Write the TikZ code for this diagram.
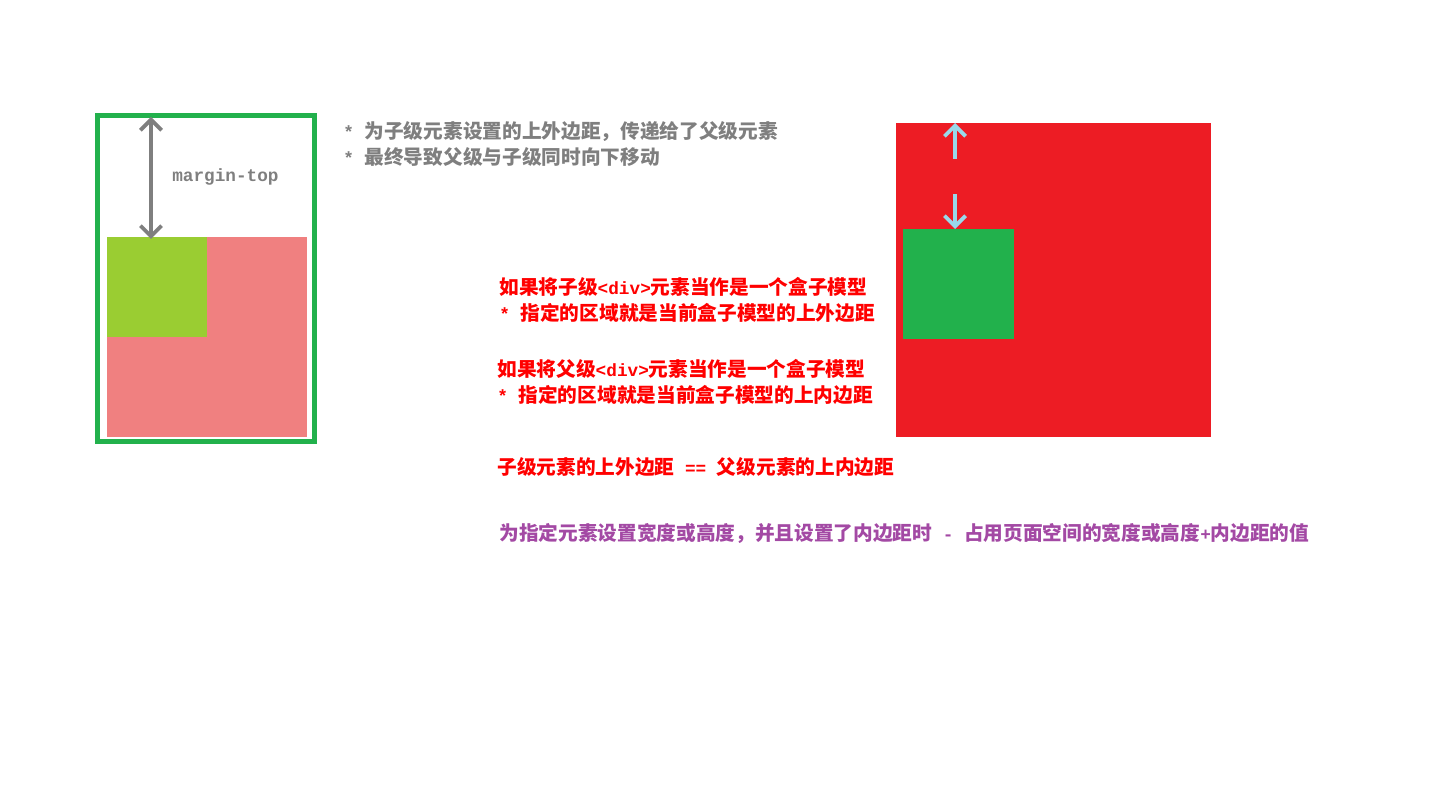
\documentclass[tikz,border=0pt]{standalone}
\usepackage{fontspec}
\setmainfont{Noto Sans CJK SC}
\newfontfamily\halfw[Scale=0.9]{Liberation Mono}
\usepackage{tikz}
\usetikzlibrary{arrows.meta,positioning,calc}
\definecolor{boxgreen}{HTML}{22B14C}
\definecolor{lightcoral}{HTML}{F08080}
\definecolor{yellowgreen}{HTML}{9ACD32}
\definecolor{boxred}{HTML}{ED1C24}
\definecolor{arrowgray}{HTML}{7F7F7F}
\definecolor{arrowblue}{HTML}{99D9EA}
\definecolor{notepurple}{HTML}{A349A4}
\newcommand{\hw}[1]{{\halfw #1}}

\begin{document}
\begin{tikzpicture}[
    x=0.02cm, y=-0.02cm,
    box/.style={rectangle, inner sep=0pt, outer sep=0pt, anchor=north west},
    note/.style={anchor=west, inner sep=0pt, font=\fontsize{11.2pt}{13pt}\selectfont\bfseries},
    gapline/.style={{Straight Barb[length=6pt, width=12pt]}-{Straight Barb[length=6pt, width=12pt]}, line width=2.2pt, color=arrowgray},
    padarrow/.style={-{Straight Barb[length=6pt, width=12pt]}, line width=2.2pt, color=arrowblue}
]
\useasboundingbox (0,0) rectangle (1440,800);

% Left example: parent and child
\node[box, draw=boxgreen, line width=2.8pt, minimum width=4.34cm, minimum height=6.52cm] (parent) at (97.5,115.5) {};
\node[box, fill=lightcoral, minimum width=4cm, minimum height=4cm] (inner) at (107,237) {};
\node[box, fill=yellowgreen, minimum width=2cm, minimum height=2cm] (child) at (107,237) {};

% margin-top arrow
\coordinate (mtop) at (151,117);
\coordinate (mbot) at (151,239);
\draw[gapline] (mtop) -- (mbot);
\node[note, color=arrowgray] (mlabel) at (172,177) {\hw{margin-top}};

% Notes on the left example
\node[note, color=arrowgray] (note1) at (343,131) {\hw{* }为子级元素设置的上外边距，传递给了父级元素};
\node[note, color=arrowgray] (note2) at (343,157) {\hw{* }最终导致父级与子级同时向下移动};

% Right example: parent with padding
\node[box, fill=boxred, minimum width=6.3cm, minimum height=6.28cm] (redbox) at (896,123) {};
\node[box, fill=boxgreen, minimum width=2.22cm, minimum height=2.2cm] (greenbox) at (903,229) {};
\coordinate (upstart) at (955,159);
\coordinate (downstart) at (955,194);
\draw[padarrow] (upstart) -- (redbox.north -| upstart);
\draw[padarrow] (downstart) -- (greenbox.north -| downstart);

% Explanations
\node[note, color=red] (expl1) at (499,287) {如果将子级\hw{<div>}元素当作是一个盒子模型};
\node[note, color=red] (expl2) at (499,313) {\hw{* }指定的区域就是当前盒子模型的上外边距};
\node[note, color=red] (expl3) at (497,369) {如果将父级\hw{<div>}元素当作是一个盒子模型};
\node[note, color=red] (expl4) at (497,395) {\hw{* }指定的区域就是当前盒子模型的上内边距};
\node[note, color=red] (equal) at (497,467) {子级元素的上外边距\hw{ == }父级元素的上内边距};
\node[note, color=notepurple] (summary) at (499,533) {为指定元素设置宽度或高度，并且设置了内边距时\hw{ - }占用页面空间的宽度或高度\hw{+}内边距的值};

\end{tikzpicture}
\end{document}
